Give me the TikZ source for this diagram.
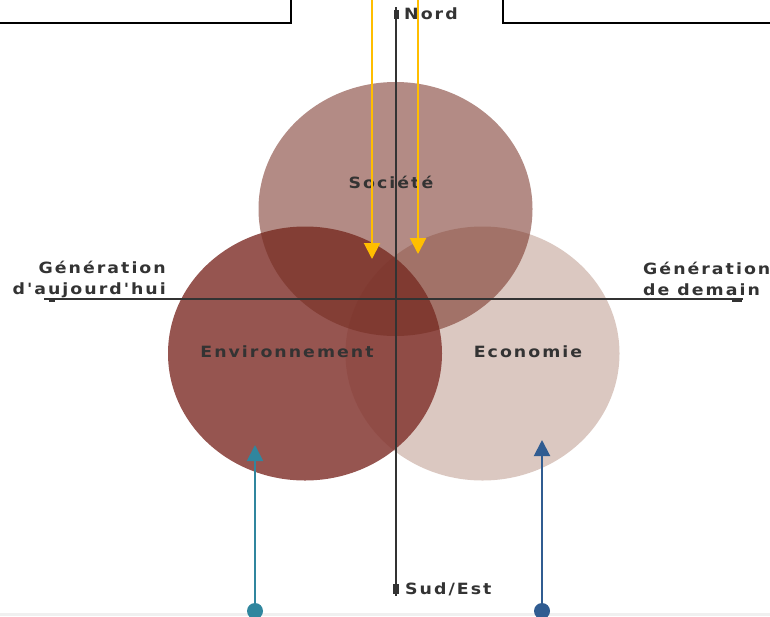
\documentclass[tikz,border=0pt]{standalone}
\usepackage{fontspec}
\usetikzlibrary{arrows.meta,shapes.geometric}
\newfontfamily\etiq{DejaVu Sans Bold}[LetterSpace=13, FakeStretch=1.12]
\definecolor{trait}{RGB}{51,51,51}
\definecolor{societe}{RGB}{116,44,32}
\definecolor{environ}{RGB}{132,55,49}
\definecolor{econo}{RGB}{219,200,193}
\definecolor{jaune}{RGB}{255,190,0}
\definecolor{bleuvert}{RGB}{48,134,158}
\definecolor{bleu}{RGB}{48,92,145}

\begin{document}
\begin{tikzpicture}[x=1pt,y=-1pt,
    sphere/.style={ellipse, minimum width=274pt, minimum height=254pt, inner sep=0pt},
    titre/.style={font={\etiq\fontsize{15.5}{21}\selectfont}, text=trait, inner sep=0pt},
    borne/.style={rectangle, fill=trait, inner sep=0pt},
    fleche/.style={line width=2pt, -{Triangle[width=16pt,length=16pt]}},
    pastille/.style={circle, minimum size=16pt, inner sep=0pt}]
    \clip (0,0) rectangle (770,616);
    % cadres du haut
    \draw[line width=2pt] (-10,-10) rectangle (291,23);
    \draw[line width=2pt] (503,-10) rectangle (780,23);
    \fill[gray!12] (0,613) rectangle (770,616);

    % les trois spheres
    \node[sphere, fill=econo] (eco) at (482.5,353.5) {};
    \node[sphere, fill=environ, fill opacity=0.85] (env) at (305,353.5) {};
    \node[sphere, fill=societe, fill opacity=0.55] (soc) at (395.5,209) {};

    % axes
    \coordinate (nord) at (396,7);
    \coordinate (sud) at (396,596);
    \coordinate (gauche) at (44,299);
    \coordinate (droite) at (743,299);
    \draw[trait, line width=2.2pt] (nord) -- (sud);
    \draw[trait, line width=1.5pt] (gauche) -- (droite);
    \node[borne, minimum width=5pt, minimum height=9pt] (bnord) at (396,14) {};
    \node[borne, minimum width=6pt, minimum height=10pt] (bsud) at (396,589) {};
    \node[borne, minimum width=6pt, minimum height=4pt] (bgauche) at (52,300) {};
    \node[borne, minimum width=10pt, minimum height=4pt] (bdroite) at (737,300) {};

    % textes
    \node[titre, anchor=west] (lnord) at (404,14) {Nord};
    \node[titre, anchor=base west] (lsud) at (405,594) {Sud/Est};
    \node[titre, anchor=base] (lsoc) at (391,188) {Société};
    \node[titre, anchor=base] (lenv) at (287,357) {Environnement};
    \node[titre, anchor=base] (leco) at (528,357) {Economie};
    \node[titre, align=right, anchor=east] (lauj) at (166,279) {Génération\\d'aujourd'hui};
    \node[titre, align=left, anchor=west] (ldem) at (643,279) {Génération\\de demain};

    % fleches jaunes
    \coordinate (j1) at (372,-2);
    \coordinate (j1b) at (372,259);
    \coordinate (j2) at (418,-2);
    \coordinate (j2b) at (418,254);
    \draw[fleche, jaune] (j1) -- (j1b);
    \draw[fleche, jaune] (j2) -- (j2b);

    % fleches bleues
    \node[pastille, fill=bleuvert] (penv) at (255,611) {};
    \node[pastille, fill=bleu] (peco) at (542,611) {};
    \coordinate (cenv) at (255,445);
    \coordinate (ceco) at (542,440);
    \draw[fleche, bleuvert] (penv) -- (cenv);
    \draw[fleche, bleu] (peco) -- (ceco);
\end{tikzpicture}
\end{document}
